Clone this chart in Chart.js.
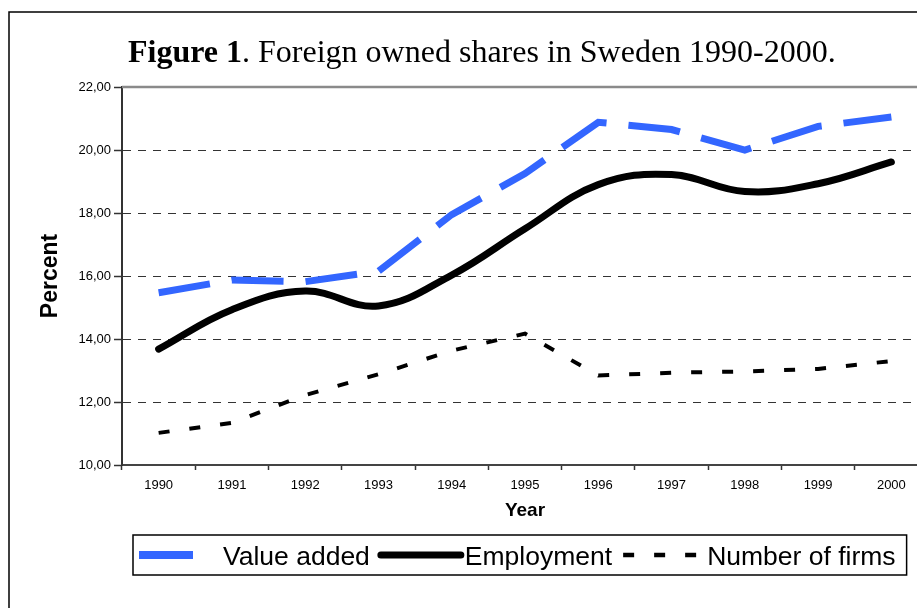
<!DOCTYPE html>
<html>
<head>
<meta charset="utf-8">
<script src="https://cdn.jsdelivr.net/npm/chart.js@4.4.0/dist/chart.umd.min.js"></script>
<style>
  html, body { margin: 0; padding: 0; background: #fff; overflow: hidden; }
  #wrap { position: relative; width: 960px; height: 608px; }
</style>
</head>
<body>
<div id="wrap"><canvas id="chart"></canvas></div>
<script>
const years = ['1990', '1991', '1992', '1993', '1994', '1995', '1996', '1997', '1998', '1999', '2000']
const valueAdded = [15.47, 15.87, 15.82, 16.15, 17.95, 19.25, 20.88, 20.65, 20.0, 20.75, 21.05]
const employment = [13.68, 14.93, 15.52, 15.05, 16.03, 17.5, 18.9, 19.22, 18.68, 18.93, 19.62]
const numberOfFirms = [11.02, 11.34, 12.22, 12.88, 13.63, 14.17, 12.84, 12.93, 12.97, 13.05, 13.3]
const yTickLabels = ['10,00', '12,00', '14,00', '16,00', '18,00', '20,00', '22,00']
const seriesNames = ['Value added', 'Employment', 'Number of firms']

const titleBold = 'Figure 1'
const titleRest = '. Foreign owned shares in Sweden 1990-2000.'
const xTitle = 'Year'
const yTitle = 'Percent'

const sans = "'Liberation Sans', Arial, sans-serif"
const serif = "'Liberation Serif', 'Times New Roman', serif"

// frame, plot top border, mixed-weight title and boxed legend
const decor = {
    id: 'decor',
    afterDraw(chart) {
        const ctx = chart.ctx
        const area = chart.chartArea
        ctx.save()

        ctx.strokeStyle = '#000'
        ctx.lineWidth = 1.5
        ctx.strokeRect(9, 12, chart.width + 40, chart.height + 40)

        ctx.strokeStyle = '#8a8a8a'
        ctx.lineWidth = 2.5
        ctx.beginPath()
        ctx.moveTo(area.left, area.top)
        ctx.lineTo(area.right, area.top)
        ctx.stroke()

        ctx.fillStyle = '#000'
        ctx.textBaseline = 'alphabetic'
        ctx.textAlign = 'left'
        ctx.font = 'bold 32px ' + serif
        ctx.fillText(titleBold, 128, 62)
        const w = ctx.measureText(titleBold).width
        ctx.font = '32px ' + serif
        ctx.fillText(titleRest, 128 + w, 62)

        // legend
        const top = 535, bottom = 575, cy = 555
        let x = 139
        ctx.font = '26.5px ' + sans
        chart.data.datasets.forEach((ds) => {
            ctx.save()
            ctx.strokeStyle = ds.borderColor
            ctx.lineWidth = ds.legendWidth || ds.borderWidth
            ctx.lineCap = ds.borderCapStyle || 'butt'
            ctx.setLineDash(ds.legendDash || [])
            ctx.beginPath()
            ctx.moveTo(x, cy)
            ctx.lineTo(x + (ds.legendLen || 80), cy)
            ctx.stroke()
            ctx.restore()
            x += 84
            ctx.fillText(ds.label, x, 565)
            x += ctx.measureText(ds.label).width + 11
        })
        ctx.strokeStyle = '#000'
        ctx.lineWidth = 1.5
        ctx.strokeRect(133, top, x - 133, bottom - top)

        ctx.restore()
    }
}

new Chart(document.getElementById('chart'), {
    type: 'line',
    data: {
        labels: years,
        datasets: [{
            label: seriesNames[0],
            data: valueAdded,
            borderColor: '#3366ff',
            borderWidth: 7,
            borderDash: [52, 22],
            legendDash: [],
            legendLen: 54,
            legendWidth: 8,
            tension: 0,
            pointRadius: 0
        }, {
            label: seriesNames[1],
            data: employment,
            borderColor: '#000',
            borderWidth: 7,
            borderCapStyle: 'round',
            borderJoinStyle: 'round',
            legendLen: 80,
            tension: 0.4,
            pointRadius: 0
        }, {
            label: seriesNames[2],
            data: numberOfFirms,
            borderColor: '#000',
            borderWidth: 4,
            borderDash: [11, 20],
            legendDash: [11, 20],
            legendLen: 78,
            legendWidth: 4.5,
            tension: 0,
            pointRadius: 0
        }]
    },
    options: {
        responsive: true,
        maintainAspectRatio: false,
        animation: false,
        layout: { padding: { top: 87, left: 0, right: 32, bottom: 0 } },
        plugins: {
            legend: { display: false },
            title: { display: false },
            tooltip: { enabled: false }
        },
        scales: {
            x: {
                offset: true,
                grid: {
                    display: true,
                    offset: true,
                    drawOnChartArea: false,
                    drawTicks: true,
                    tickLength: 5,
                    tickColor: '#333',
                    tickWidth: 1.5
                },
                border: { color: '#444', width: 2 },
                ticks: {
                    color: '#000',
                    font: { family: sans, size: 13 },
                    padding: 8,
                    maxRotation: 0,
                    autoSkip: false
                },
                title: {
                    display: true,
                    text: xTitle,
                    color: '#000',
                    font: { family: sans, size: 19, weight: 'bold' },
                    padding: { top: 0, bottom: 86 }
                },
                afterFit: (s) => { s.height = 143 }
            },
            y: {
                min: 10,
                max: 22,
                ticks: {
                    stepSize: 2,
                    color: '#000',
                    font: { family: sans, size: 13 },
                    padding: 3,
                    callback: (v, i) => yTickLabels[i]
                },
                grid: {
                    color: (c) => (c.tick && (c.tick.value === 10 || c.tick.value === 22)) ? 'rgba(0,0,0,0)' : '#333',
                    lineWidth: 1,
                    tickLength: 8,
                    tickColor: '#333',
                    tickWidth: 1.5,
                    tickBorderDash: []
                },
                border: { color: '#333', width: 2, dash: [8, 7] },
                title: {
                    display: true,
                    text: yTitle,
                    color: '#000',
                    font: { family: sans, size: 23, weight: 'bold' },
                    padding: { top: 37, bottom: 0 }
                },
                afterFit: (s) => { s.width = 122 }
            }
        }
    },
    plugins: [decor]
})
</script>
</body>
</html>
